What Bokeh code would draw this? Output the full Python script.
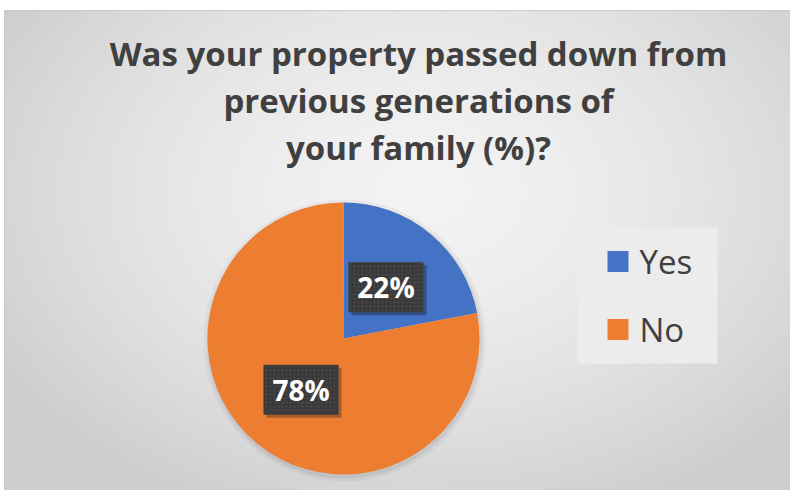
import numpy as np
from bokeh.plotting import figure
from bokeh.models import ColumnDataSource, Range1d, Label
from bokeh.core.properties import value
from bokeh.embed import file_html
from bokeh.resources import INLINE

# ---- data ----
categories = ["Yes", "No"]
percents = [22, 78]
colors = ["#4472C4", "#ED7D31"]
pct_labels = ["22%", "78%"]
title_lines = ["Was your property passed down from", "previous generations of", "your family (%)?"]

W, H = 790, 490
LB, TB = 4, 10
FW, FH = W - LB, H - TB
FONT = "Open Sans"

p = figure(width=W, height=H, output_backend="svg", toolbar_location=None,
           x_range=Range1d(0, FW), y_range=Range1d(0, FH),
           min_border_left=LB, min_border_top=TB, min_border_right=0, min_border_bottom=0)
p.axis.visible = False
p.grid.visible = False
p.outline_line_color = "#c6c6c6"
p.background_fill_color = "#e2e2e2"
p.border_fill_color = "white"

# background radial gradient (decoration)
yy, xx = np.mgrid[0:FH, 0:FW]
cx, cy = FW * 0.53, FH * 0.62
d = np.sqrt(((xx - cx) / (FW * 0.62)) ** 2 + ((yy - cy) / (FH * 0.72)) ** 2)
d = np.clip(d, 0, 1)
lev = (243 - (243 - 206) * d ** 1.6).astype(np.uint32)
img = (255 << 24) | (lev << 16) | (lev << 8) | lev
p.image_rgba(image=[img.astype(np.uint32)], x=0, y=0, dw=FW, dh=FH)

# ---- pie ----
CX, CY, R = 339, 152, 136
vals = np.array(percents, dtype=float)
frac = vals / vals.sum()
ends = np.pi / 2 - 2 * np.pi * np.cumsum(frac)
starts = np.concatenate([[np.pi / 2], ends[:-1]])
mids = (starts + ends) / 2
src = ColumnDataSource(dict(cat=categories, start=starts, end=ends, color=colors,
                            lx=CX + 0.49 * R * np.cos(mids), ly=CY + 0.49 * R * np.sin(mids),
                            lab=pct_labels))

# soft shadow
p.circle(x=[CX + 1], y=[CY - 2], radius=R + 5, fill_color="black", fill_alpha=0.04, line_color=None)
p.circle(x=[CX + 1], y=[CY - 2], radius=R + 2, fill_color="black", fill_alpha=0.06, line_color=None)

p.wedge(x=CX, y=CY, radius=R, start_angle="start", end_angle="end", direction="clock",
        fill_color="color", line_color=None, source=src)

# data label boxes
p.rect(x=src.data["lx"] + 3, y=src.data["ly"] - 3, width=75, height=50,
       fill_color="black", fill_alpha=0.28, line_color=None)
p.rect(x="lx", y="ly", width=75, height=50, source=src, fill_color="#3a3a3a",
       line_color=None, hatch_pattern="dot", hatch_color="#4c4c4c", hatch_scale=4, hatch_weight=1)
p.text(x="lx", y="ly", text="lab", source=src, text_align="center", text_baseline="middle",
       text_font=value(FONT), text_font_style="bold", text_font_size="28px", text_color="white")

# ---- legend (drawn) ----
p.rect(x=[643], y=[195], width=140, height=136, fill_color="#ececec", line_color=None)
leg = ColumnDataSource(dict(x=[613.5, 613.5], y=[229, 161], cat=categories, color=colors))
p.rect(x="x", y="y", width=21, height=21, fill_color="color", line_color=None, source=leg)
p.text(x=635, y="y", text="cat", source=leg, text_baseline="middle", text_font=value(FONT),
       text_font_size="33px", text_color="#404040")

# ---- title ----
for i, t in enumerate(title_lines):
    p.add_layout(Label(x=414, y=437 - 47 * i, text=t, text_align="center",
                       text_baseline="alphabetic", text_font=FONT, text_font_style="bold",
                       text_font_size="33px", text_color="#404040"))

open("out.html", "w").write(file_html(p, INLINE))
